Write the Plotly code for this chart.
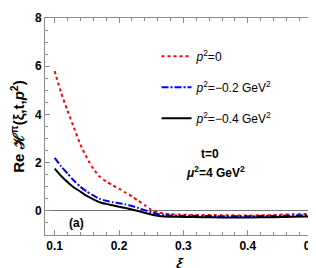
import plotly.graph_objects as go

xi = [0.10, 0.11, 0.12, 0.13, 0.14, 0.15, 0.16, 0.17, 0.18, 0.19, 0.20, 0.21, 0.22,
      0.23, 0.24, 0.25, 0.26, 0.27, 0.28, 0.30, 0.33, 0.36, 0.40, 0.44, 0.47, 0.50]
re_p0 = [5.8, 4.9, 4.15, 3.45, 2.75, 2.2, 1.75, 1.42, 1.22, 1.06, 0.92, 0.76, 0.6,
         0.42, 0.24, 0.05, -0.06, -0.11, -0.14, -0.16, -0.17, -0.18, -0.19, -0.17, -0.14, -0.12]
re_p02 = [2.2, 1.85, 1.55, 1.25, 1.0, 0.8, 0.64, 0.5, 0.42, 0.36, 0.32, 0.27, 0.2,
          0.12, 0.03, -0.06, -0.13, -0.17, -0.19, -0.2, -0.21, -0.22, -0.22, -0.21, -0.19, -0.17]
re_p04 = [1.75, 1.45, 1.2, 0.97, 0.8, 0.62, 0.48, 0.36, 0.29, 0.23, 0.17, 0.12, 0.06,
          -0.01, -0.08, -0.15, -0.2, -0.23, -0.24, -0.25, -0.26, -0.27, -0.27, -0.26, -0.24, -0.23]

names = ["<i>p</i><sup>2</sup>=0",
         "<i>p</i><sup>2</sup>=\u22120.2 GeV<sup>2</sup>",
         "<i>p</i><sup>2</sup>=\u22120.4 GeV<sup>2</sup>"]
x_ticks = [0.1, 0.2, 0.3, 0.4, 0.5]
x_ticktext = ["0.1", "0.2", "0.3", "0.4", "0.5"]
y_ticks = [0, 2, 4, 6, 8]

FONT = "Liberation Sans, Arial, sans-serif"
fig = go.Figure()
styles = [dict(color="#ff0000", dash="3px,3px", width=2),
          dict(color="#0000ff", dash="7px,2px,2px,2px", width=2),
          dict(color="#000000", dash="solid", width=2)]
for ys, nm, st, g in zip([re_p0, re_p02, re_p04], names, styles, ["a", "b", "c"]):
    fig.add_trace(go.Scatter(x=xi, y=ys, mode="lines", name=nm, legendgroup=g,
                             line=dict(shape="spline", smoothing=0.6, **st)))

axcol = "#8c8c8c"
fig.update_layout(
    width=316, height=268,
    margin=dict(l=37, r=3, t=5, b=41),
    paper_bgcolor="white", plot_bgcolor="white",
    font=dict(family=FONT, size=11, color="black"),
    showlegend=True,
    legend=dict(x=0.413, y=0.89, xanchor="left", yanchor="top",
                bgcolor="rgba(0,0,0,0)", font=dict(size=12, family=FONT),
                tracegroupgap=12, itemwidth=30),
    xaxis=dict(range=[0.085, 0.5045], tickvals=x_ticks, ticktext=x_ticktext,
               ticks="inside", ticklen=5, tickcolor=axcol, showline=True, linecolor=axcol,
               linewidth=1, mirror="ticks", showgrid=False, zeroline=False,
               ticklabeloverflow="allow",
               tickfont=dict(size=12, family=FONT, weight="bold"),
               minor=dict(dtick=0.02, tick0=0.1, ticks="inside", ticklen=3, tickcolor=axcol)),
    yaxis=dict(range=[-1, 8], tickvals=y_ticks,
               ticks="inside", ticklen=5, tickcolor=axcol, showline=True, linecolor=axcol,
               linewidth=1, mirror="ticks", showgrid=False,
               zeroline=True, zerolinecolor="#777777", zerolinewidth=1,
               ticklabeloverflow="allow",
               tickfont=dict(size=12, family=FONT, weight="bold"),
               minor=dict(dtick=0.5, tick0=0, ticks="inside", ticklen=3, tickcolor=axcol),
               title=dict(text="Re \u210b<sup>\u03c0</sup>(\u03be,t,<i>p</i><sup>2</sup>)",
                          font=dict(size=15, family=FONT, weight="bold"), standoff=6)),
)
fig.add_annotation(x=0.5, y=-0.133, xref="paper", yref="paper", text="<b><i>ξ</i></b>",
                   showarrow=False, yanchor="middle", font=dict(size=15, family=FONT))
fig.add_annotation(x=0.61, y=0.333, xref="paper", yref="paper", text="<b>t=0</b>",
                   showarrow=False, font=dict(size=12, family=FONT))
fig.add_annotation(x=0.63, y=0.243, xref="paper", yref="paper",
                   text="<b><i>μ</i><sup>2</sup>=4 GeV<sup>2</sup></b>",
                   showarrow=False, font=dict(size=12, family=FONT))
fig.add_annotation(x=0.083, y=0.012, xref="paper", yref="paper", text="<b>(a)</b>",
                   showarrow=False, font=dict(size=12, family=FONT))
fig.write_html("out.html")
